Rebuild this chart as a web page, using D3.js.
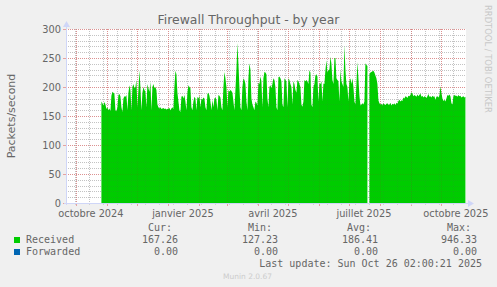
<!DOCTYPE html>
<html lang="fr">
<head>
  <meta charset="UTF-8">
  <title>Firewall Throughput - by year</title>
  <script src="https://d3js.org/d3.v7.min.js"></script>
  <style>
    body {
      margin: 0;
      background: #f0f0f0;
    }
    svg {
      display: block;
    }
    text {
      fill: #666;
    }
  </style>
</head>
<body>
  <div id="chart"></div>

  <script>
    // daily average packets/second for "Received", first value is 2024-10-26
    const firstDay = "2024-10-26";
    const received = [
      175, 172, 168, 174, 170, 162, 165, 160, 163, 158,
      185, 192, 190, 188, 160, 158, 165,
      186, 188, 184, 165, 157, 180, 184,
      183, 186, 160, 190, 203, 195, 160,
      200, 205, 198, 200, 212, 165, 195,
      229, 200, 160, 190, 200, 195, 192,
      165, 205, 198, 192, 209, 160, 200,
      205, 198, 200, 195, 170, 165, 163,
      165, 162, 163, 164, 162, 163, 161,
      162, 163, 164, 160, 163, 165, 162,
      200, 228, 222, 190, 175, 160, 157,
      183, 185, 180, 186, 175, 160, 190,
      203, 200, 198, 165, 160, 175, 183,
      180, 160, 183, 180, 185, 165, 180,
      178, 182, 180, 165, 160, 188, 190,
      185, 175, 160, 178, 165, 180, 182,
      178, 160, 186, 185, 182, 165, 160,
      200, 226, 215, 200, 165, 195, 192,
      195, 193, 190, 175, 160, 195, 230,
      276, 240, 200, 165, 160, 200, 215,
      212, 205, 175, 160, 215, 241, 230,
      180, 170, 165, 160, 175, 173, 168,
      207, 205, 218, 210, 165, 215, 226,
      225, 222, 180, 165, 200, 203, 198,
      205, 215, 212, 200, 165, 160, 217,
      218, 215, 210, 170, 165, 215, 212,
      210, 165, 215, 212, 205, 200, 170,
      210, 205, 195, 190, 212, 210, 205,
      200, 170, 166, 175, 212, 210, 212,
      210, 205, 229, 225, 170, 165, 200,
      205, 220, 222, 218, 175, 206, 205,
      210, 175, 206, 205, 229, 246, 225,
      229, 230, 252, 240, 212, 205, 250,
      250, 215, 212, 210, 175, 230, 210,
      205, 200, 272, 230, 205, 200, 175,
      210, 215, 205, 215, 200, 175, 170,
      205, 243, 215, 185, 168, 170, 172, 170, 175,
      241, 238, 236, null,
      222, 225, 226, 227, 228, 225, 220, 215, 205,
      177,
      172, 170, 171, 168, 172, 170, 169,
      171, 172, 169, 170, 173, 168, 171,
      170, 172, 169, 173, 171, 176, 178,
      175, 177, 176, 182, 180, 184, 183,
      181, 185, 184, 186, 191, 189, 184,
      186, 185, 183, 187, 184, 186, 189,
      183, 185, 182, 184, 183, 181, 184,
      188, 183, 184, 182, 185, 183, 184,
      178, 183, 184, 182, 185, 201, 190,
      180, 176, 178, 175, 180, 186, 185,
      187, 184, 172, 170, 184, 186, 185,
      185, 183, 186, 184, 185, 182, 183,
      184, 182, 183
    ];

    const yTicks = [0, 50, 100, 150, 200, 250, 300];
    const xLabelMonths = ["2024-10-01", "2025-01-01", "2025-04-01", "2025-07-01", "2025-10-01"];

    const seriesNames = ["Received", "Forwarded"];
    const seriesColors = ["#00cc00", "#0066b3"];
    const statHeaders = ["Cur:", "Min:", "Avg:", "Max:"];
    const receivedStats = ["167.26", "127.23", "186.41", "946.33"];
    const forwardedStats = ["0.00", "0.00", "0.00", "0.00"];
    const lastUpdate = "Last update: Sun Oct 26 02:00:21 2025";

    const width = 497, height = 287;
    const plotL = 66, plotR = 466, plotT = 29, plotB = 203;

    const svg = d3.select("#chart")
      .append("svg")
      .attr("width", width)
      .attr("height", height)
      .style("font-family", "'DejaVu Sans', sans-serif");

    svg.append("rect").attr("width", width).attr("height", height).attr("fill", "#f0f0f0");

    const x = d3.scaleUtc()
      .domain([new Date(Date.UTC(2024, 8, 21, 2)), new Date(Date.UTC(2025, 9, 26, 2))])
      .range([plotL, plotR]);
    const y = d3.scaleLinear().domain([0, 300]).range([plotB, plotT]);

    svg.append("rect")
      .attr("x", plotL).attr("y", plotT)
      .attr("width", plotR - plotL).attr("height", plotB - plotT)
      .attr("fill", "#fff");

    const px = v => Math.round(v) + 0.5;
    const minorY = d3.range(10, 300, 10).filter(v => v % 50 !== 0);
    const fortnights = d3.utcMonday.range(x.domain()[0], x.domain()[1])
      .filter(d => Math.round((d - Date.UTC(2024, 8, 30)) / 864e5) % 14 === 0);
    const months = d3.utcMonth.range(x.domain()[0], x.domain()[1]);

    // grid: strong under the data, very faint again on top of it
    function drawGrid(g, minorColor, majorColor) {
      g.attr("stroke-dasharray", "1,1").attr("fill", "none");
      g.selectAll(".ym").data(minorY).enter().append("line")
        .attr("x1", plotL).attr("x2", plotR)
        .attr("y1", d => px(y(d))).attr("y2", d => px(y(d)))
        .attr("stroke", minorColor);
      g.selectAll(".xm").data(fortnights).enter().append("line")
        .attr("x1", d => px(x(d))).attr("x2", d => px(x(d)))
        .attr("y1", plotT).attr("y2", plotB)
        .attr("stroke", minorColor);
      g.selectAll(".xM").data(months).enter().append("line")
        .attr("x1", d => px(x(d))).attr("x2", d => px(x(d)))
        .attr("y1", plotT).attr("y2", plotB)
        .attr("stroke", majorColor);
      g.selectAll(".yM").data(yTicks.filter(v => v > 0)).enter().append("line")
        .attr("x1", plotL).attr("x2", plotR)
        .attr("y1", d => px(y(d))).attr("y2", d => px(y(d)))
        .attr("stroke", majorColor);
    }
    drawGrid(svg.append("g"), "#d2d2d2", "#e6a2a2");

    // one point per day, placed at noon
    const start = d3.utcParse("%Y-%m-%d")(firstDay);
    const points = received.map((v, i) => ({
      date: d3.utcHour.offset(d3.utcDay.offset(start, i), 12),
      v: v
    }));

    const area = d3.area()
      .defined(d => d.v != null)
      .x(d => x(d.date))
      .y0(y(0))
      .y1(d => y(d.v));

    svg.append("path")
      .datum(points)
      .attr("d", area)
      .attr("fill", seriesColors[0]);

    drawGrid(svg.append("g"), "rgba(90,90,90,0.12)", "rgba(160,40,40,0.14)");

    // small tick marks outside the axes
    svg.selectAll(".tk").data(months).enter().append("line")
      .attr("x1", d => px(x(d))).attr("x2", d => px(x(d)))
      .attr("y1", plotB).attr("y2", plotB + 3)
      .attr("stroke", "#e6a2a2");
    svg.selectAll(".tm").data(fortnights).enter().append("line")
      .attr("x1", d => px(x(d))).attr("x2", d => px(x(d)))
      .attr("y1", plotB).attr("y2", plotB + 2)
      .attr("stroke", "#d2d2d2");
    svg.selectAll(".ty").data(yTicks).enter().append("line")
      .attr("x1", plotL - 3).attr("x2", plotL)
      .attr("y1", d => px(y(d))).attr("y2", d => px(y(d)))
      .attr("stroke", "#e6a2a2");

    // axes with arrows
    const axisColor = "#cfd6f8";
    svg.append("line").attr("x1", plotL + 0.5).attr("x2", plotL + 0.5)
      .attr("y1", plotT - 4).attr("y2", plotB + 2).attr("stroke", axisColor);
    svg.append("line").attr("x1", plotL - 2).attr("x2", plotR + 3)
      .attr("y1", plotB + 0.5).attr("y2", plotB + 0.5).attr("stroke", axisColor);
    svg.append("path")
      .attr("d", `M${plotL - 3},${plotT - 2}L${plotL + 0.5},${plotT - 8}L${plotL + 4},${plotT - 2}Z`)
      .attr("fill", axisColor);
    svg.append("path")
      .attr("d", `M${plotR + 2},${plotB - 3}L${plotR + 8},${plotB + 0.5}L${plotR + 2},${plotB + 4}Z`)
      .attr("fill", axisColor);

    // tick labels
    svg.selectAll(".yl").data(yTicks).enter().append("text")
      .attr("x", plotL - 5).attr("y", d => y(d) + 3.5)
      .attr("text-anchor", "end")
      .style("font-size", "9.8px")
      .text(d => d);

    const frMonths = ["janvier", "février", "mars", "avril", "mai", "juin", "juillet",
      "août", "septembre", "octobre", "novembre", "décembre"];
    svg.selectAll(".xl").data(xLabelMonths.map(d3.utcParse("%Y-%m-%d"))).enter().append("text")
      .attr("x", d => x(d3.utcDay.offset(d, 15)))
      .attr("y", 217)
      .attr("text-anchor", "middle")
      .style("font-size", "9.8px")
      .text(d => frMonths[d.getUTCMonth()] + " " + d.getUTCFullYear());

    svg.append("text")
      .attr("x", 248.5).attr("y", 24)
      .attr("text-anchor", "middle")
      .style("font-size", "12.4px")
      .text("Firewall Throughput - by year");

    svg.append("text")
      .attr("transform", "translate(15,116) rotate(-90)")
      .attr("text-anchor", "middle")
      .style("font-size", "11px")
      .text("Packets/second");

    svg.append("text")
      .attr("transform", "translate(485,5) rotate(90)")
      .style("font-size", "8.4px")
      .style("fill", "#c8c8c8")
      .text("RRDTOOL / TOBI OETIKER");

    // legend
    const legend = svg.append("g")
      .style("font-family", "'DejaVu Sans Mono', monospace")
      .style("font-size", "10px");
    const valueX = [178, 278, 378, 477];
    const headerX = [172, 272, 371, 471];

    legend.selectAll(".hd").data(statHeaders).enter().append("text")
      .attr("x", (d, i) => headerX[i]).attr("y", 231)
      .attr("text-anchor", "end")
      .text(d => d);

    [receivedStats, forwardedStats].forEach((stats, r) => {
      const rowY = 243 + r * 12;
      legend.append("rect")
        .attr("x", 14).attr("y", rowY - 6).attr("width", 6).attr("height", 6)
        .attr("fill", seriesColors[r]);
      legend.append("text").attr("x", 26).attr("y", rowY).text(seriesNames[r]);
      legend.selectAll(".v" + r).data(stats).enter().append("text")
        .attr("x", (d, i) => valueX[i]).attr("y", rowY)
        .attr("text-anchor", "end")
        .text(d => d);
    });

    legend.append("text")
      .attr("x", 482).attr("y", 267)
      .attr("text-anchor", "end")
      .text(lastUpdate);

    svg.append("text")
      .attr("x", 247.5).attr("y", 279)
      .attr("text-anchor", "middle")
      .style("font-size", "7.5px")
      .style("fill", "#cccccc")
      .text("Munin 2.0.67");
  </script>
</body>
</html>
